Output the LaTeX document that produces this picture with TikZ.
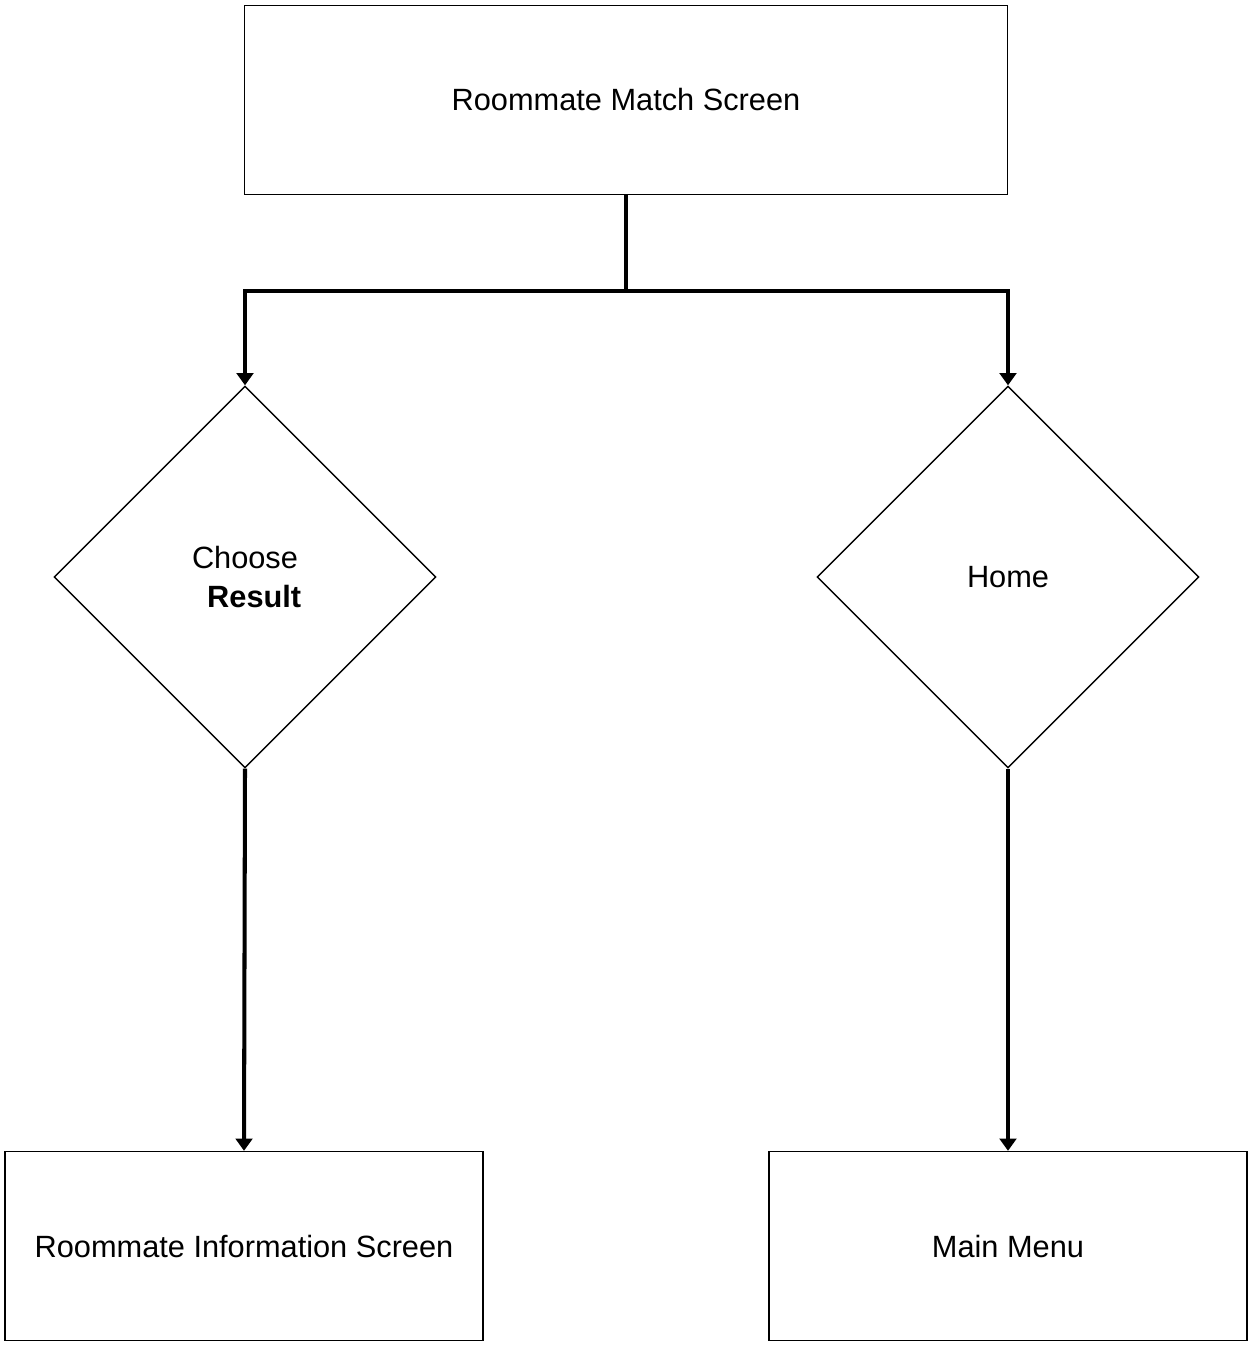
\documentclass[tikz,border=0pt]{standalone}
\usepackage{fontspec}
\setmainfont{Liberation Sans}
\usetikzlibrary{shapes.geometric,arrows.meta,positioning}
\tikzset{>={Triangle[length=7pt,width=9.5pt]}}

\begin{document}
\begin{tikzpicture}[x=0.02cm,y=-0.02cm,
              screen/.style={draw, line width=0.8pt, minimum width=15.26cm, minimum height=3.78cm, inner sep=0pt, font=\fontsize{17.5}{21}\selectfont},
              smallscreen/.style={screen, minimum width=9.56cm},
              choice/.style={draw, diamond, aspect=1, line width=0.8pt, minimum width=7.64cm, minimum height=7.64cm, inner sep=0pt, align=center, font=\fontsize{17.5}{21}\selectfont},
              link/.style={line width=2.3pt},
             ]

\useasboundingbox (0,0) rectangle (1248,1345);

\node[screen] (match) at (626,100) {Roommate Match Screen};
\node[choice] (choose) at (245,577) {Choose\\[1pt]\hspace*{0.6em}\textbf{Result}};
\node[choice] (home) at (1008,577) {Home};
\node[smallscreen] (info) at (244,1246) {Roommate Information Screen};
\node[smallscreen] (menu) at (1008,1246) {Main Menu};

\coordinate (split) at (626,291);

\draw[link] (match.south) -- (split);
\draw[link,->] (split) -| (choose.north);
\draw[link,->] (split) -| (home.north);
\draw[link,->] (choose.south) -- (info.north);
\draw[link,->] (home.south) -- (menu.north);
\end{tikzpicture}
\end{document}
